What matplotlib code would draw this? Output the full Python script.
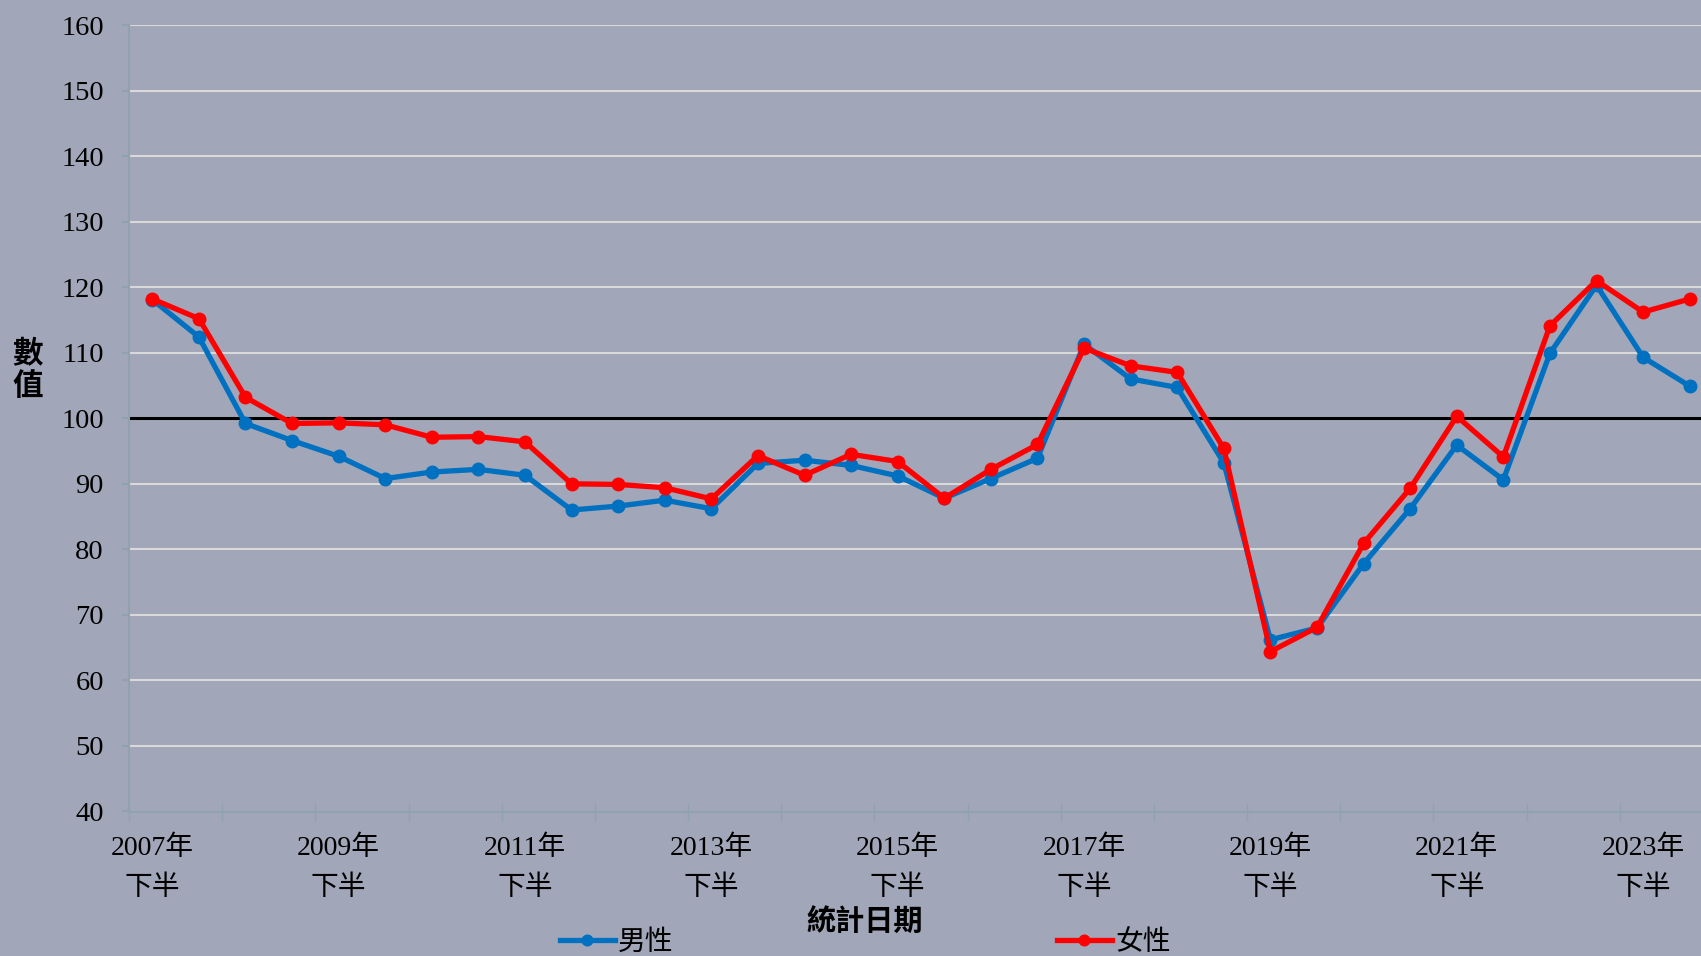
import matplotlib
matplotlib.use("Agg")
import matplotlib.pyplot as plt
import numpy as np

plt.rcParams['font.family'] = ['Liberation Serif', 'Noto Sans CJK TC']

years = list(range(2007, 2025))
periods = []
for y in years:
    for h in ["上半", "下半"]:
        periods.append(f"{y}年\n{h}")
periods = periods[1:-1]  # 2007下半 .. 2024上半

male = [118.1, 112.4, 99.2, 96.6, 94.2, 90.8, 91.8, 92.2, 91.3, 86.0,
        86.6, 87.5, 86.2, 93.1, 93.6, 92.8, 91.2, 87.8, 90.8, 93.9,
        111.3, 106.0, 104.7, 93.2, 66.2, 68.0, 77.8, 86.2, 95.9, 90.6,
        109.9, 120.3, 109.3, 104.9]
female = [118.2, 115.2, 103.2, 99.2, 99.3, 99.0, 97.1, 97.2, 96.4, 90.0,
          89.9, 89.4, 87.7, 94.3, 91.3, 94.5, 93.4, 87.8, 92.2, 96.0,
          110.7, 108.0, 107.0, 95.4, 64.4, 68.1, 80.9, 89.3, 100.3, 94.1,
          114.1, 121.0, 116.2, 118.2]

bg = '#A1A6B8'
spine_c = '#8FA2AE'
blue = '#0070C0'
red = '#FF0000'

fig = plt.figure(figsize=(17.01, 9.56), dpi=100, facecolor=bg)
ax = fig.add_axes([129 / 1701, 144.5 / 956, (1713 - 129) / 1701, (931 - 144.5) / 956])
ax.set_facecolor(bg)

x = np.arange(len(periods))
ax.set_ylim(40, 160)
ax.set_xlim(-0.5, len(periods) - 0.5)
ax.set_yticks(np.arange(40, 161, 10))
for v in np.arange(50, 161, 10):
    ax.axhline(v, color='#D9D9D9', lw=1.5, zorder=1)
ax.axhline(100, color='black', lw=2.2, zorder=2)

ax.plot(x, male, color=blue, lw=3.8, marker='o', markersize=9, label='男性', zorder=3)
ax.plot(x, female, color=red, lw=3.8, marker='o', markersize=9, label='女性', zorder=4)

for s in ['top', 'right']:
    ax.spines[s].set_visible(False)
for s in ['left', 'bottom']:
    ax.spines[s].set_color(spine_c)
    ax.spines[s].set_linewidth(1.5)

lab_idx = list(range(0, len(periods), 4))
ax.set_xticks(lab_idx)
ax.set_xticklabels([periods[i] for i in lab_idx], fontsize=20, linespacing=1.75)
ax.tick_params(axis='x', which='major', length=0, pad=17)
ax.set_xticks(np.arange(-0.5, len(periods), 2), minor=True)
ax.tick_params(axis='x', which='minor', length=13, direction='inout', color=spine_c, width=1)
ax.tick_params(axis='y', length=5, color=spine_c, width=1.5, labelsize=20.5, pad=13)

fig.text(865 / 1701, 1 - 922 / 956, '統計日期', fontsize=21, fontweight='bold',
         ha='center', va='center', family=['Noto Sans CJK TC'])
fig.text(28 / 1701, 1 - 370 / 956, '數\n值', fontsize=22, fontweight='bold',
         ha='center', va='center', linespacing=1.0, family=['Noto Sans CJK TC'])

fig.legend(loc='center', bbox_to_anchor=(865 / 1701, 1 - 942 / 956), ncol=2,
           frameon=False, handlelength=2.0, handletextpad=0.1,
           columnspacing=13.8, borderpad=0, prop={'family': ['Noto Sans CJK TC'], 'size': 20},
           markerscale=0.85)

fig.savefig('out.png', dpi=100, facecolor=bg)
